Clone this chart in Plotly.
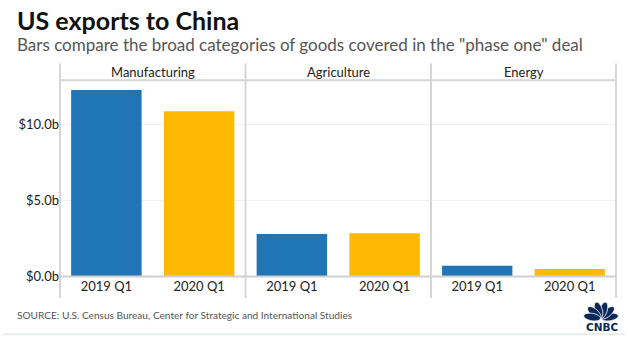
import math
import plotly.graph_objects as go
from plotly.subplots import make_subplots

# ---- data ----
panels = ["Manufacturing", "Agriculture", "Energy"]
periods = ["2019 Q1", "2020 Q1"]
values_2019 = [12.3, 2.8, 0.72]
values_2020 = [10.9, 2.85, 0.5]
ytick_vals = [0, 5, 10]
ytick_text = ["$0.0b", "$5.0b", "$10.0b"]

W, H = 628, 352
FONT = "Lato"
BLUE = "#1F75B5"
YELLOW = "#FDBA00"
LINE = "#d6d6d6"

def px(x):
    return x / W

def py(y):
    return 1 - y / H

edges = [60, 245.5, 431, 616]
plot_top, plot_bot, head_top = 82, 283, 65

fig = make_subplots(rows=1, cols=3, shared_yaxes=True, horizontal_spacing=0)

def note(x, y, text, size, color, family=FONT, xanchor="center"):
    fig.add_annotation(x=px(x), y=py(y), xref="paper", yref="paper", xanchor=xanchor,
                       yanchor="middle", text=text, showarrow=False,
                       font=dict(family=family, size=size, color=color))

for i in range(3):
    fig.add_trace(go.Bar(x=periods, y=[values_2019[i], values_2020[i]],
                         marker=dict(color=[BLUE, YELLOW], line=dict(width=0)),
                         width=0.76, showlegend=False, hoverinfo="skip"),
                  row=1, col=i + 1)
    xa = "xaxis" if i == 0 else f"xaxis{i+1}"
    ya = "yaxis" if i == 0 else f"yaxis{i+1}"
    fig.layout[xa].update(domain=[px(edges[i]), px(edges[i + 1])], showgrid=False,
                          showline=False, ticks="", zeroline=False,
                          tickfont=dict(family=FONT, size=13, color="#222"),
                          range=[-0.5, 1.5])
    fig.layout[ya].update(domain=[py(plot_bot), py(plot_top)], range=[0, 12.95],
                          showgrid=True, gridcolor="#f1f1f1", gridwidth=1,
                          zeroline=False, showline=False, ticks="",
                          tickvals=ytick_vals, ticktext=ytick_text,
                          showticklabels=(i == 0),
                          tickfont=dict(family=FONT, size=13, color="#222"))
    note((edges[i] + edges[i + 1]) / 2, 73.5, panels[i], 13, "#222")

shapes = []
# panel separators
for e in edges:
    shapes.append(dict(type="line", xref="paper", yref="paper", x0=px(e), x1=px(e),
                       y0=py(head_top), y1=py(305), line=dict(color=LINE, width=2)))
# header line
shapes.append(dict(type="line", xref="paper", yref="paper", x0=px(edges[0]), x1=px(edges[-1]),
                   y0=py(plot_top), y1=py(plot_top), line=dict(color=LINE, width=2)))
# baseline
shapes.append(dict(type="line", xref="paper", yref="paper", x0=px(edges[0]), x1=px(edges[-1]),
                   y0=py(plot_bot), y1=py(plot_bot), line=dict(color="#cfcfcf", width=2)))
# bottom rule
shapes.append(dict(type="line", xref="paper", yref="paper", x0=px(3), x1=px(625),
                   y0=py(342), y1=py(342), line=dict(color="#e8ecec", width=2)))

# CNBC peacock (approximate)
cx, cy = 601.0, 326.0
for k in range(6):
    ang = math.radians(10 + 32 * k)
    ex = cx + 9.0 * math.cos(ang)
    ey = cy - 9.0 * math.sin(ang)
    pts = []
    for t in range(24):
        a = 2 * math.pi * t / 24
        u, v = 8.5 * math.cos(a), 3.8 * math.sin(a)
        X = ex + u * math.cos(ang) - v * math.sin(ang)
        Y = ey - (u * math.sin(ang) + v * math.cos(ang))
        pts.append((px(X), py(Y)))
    path = "M " + " L ".join(f"{a:.5f},{b:.5f}" for a, b in pts) + " Z"
    shapes.append(dict(type="path", xref="paper", yref="paper", path=path,
                       fillcolor="#0b2a5b", line=dict(color="white", width=0.8)))

fig.update_layout(shapes=shapes)

note(15, 20, "<b>US exports to China</b>", 25, "#111", xanchor="left")
note(15, 46, 'Bars compare the broad categories of goods covered in the "phase one" deal',
     17, "#555", xanchor="left")
note(15, 322, "SOURCE: U.S. Census Bureau, Center for Strategic and International Studies",
     10.1, "#555", xanchor="left")
note(601.5, 335, "<b>CNBC</b>", 10.5, "#0b2a5b", family="DejaVu Sans")

fig.update_layout(width=W, height=H, margin=dict(l=0, r=0, t=0, b=0),
                  paper_bgcolor="white", plot_bgcolor="white", bargap=0.24)

fig.write_html("out.html")
